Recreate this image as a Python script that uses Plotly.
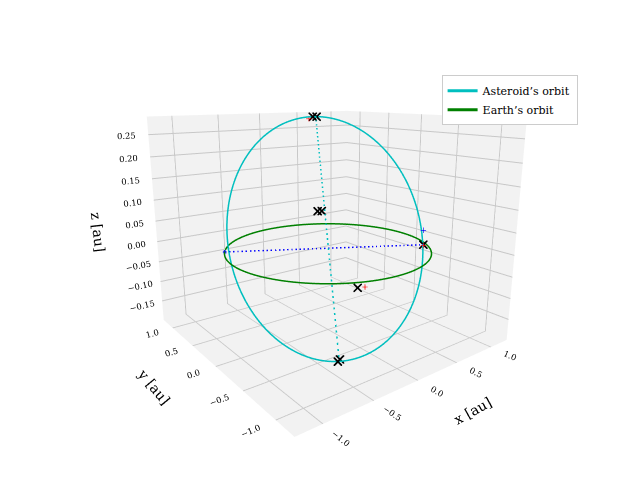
import numpy as np
import plotly.graph_objects as go

# orbital parameters (approximate)
a_ast = 1.0
e_ast = 0.2
inc_deg = 13.5
node_deg = -30.0
peri_deg = 270.0
earth_r = 1.0

cross_x = [0.56, 0.60, -0.37, -0.41, 0.22, 0.26, -0.40, 0.84]
cross_y = [1.02, 1.00, -0.66, -0.68, 0.47, 0.45, -0.92, -0.48]
cross_z = [0.28, 0.28, -0.185, -0.185, 0.06, 0.06, -0.01, 0.0]
plus_x = [0.52, -0.34, 0.82]
plus_y = [1.04, -0.94, -0.50]
plus_z = [0.275, -0.01, 0.0]
bplus_x = [0.83]
bplus_y = [-0.48]
bplus_z = [0.035]
xy_ticks = [-1.0, -0.5, 0.0, 0.5, 1.0]
z_ticks = [-0.15, -0.1, -0.05, 0, 0.05, 0.1, 0.15, 0.2, 0.25]

t = np.linspace(0, 2 * np.pi, 400)
ex, ey, ez = earth_r * np.cos(t), earth_r * np.sin(t), 0 * t

inc, Om, w = np.radians([inc_deg, node_deg, peri_deg])
p = a_ast * (1 - e_ast ** 2)
r = p / (1 + e_ast * np.cos(t))
u = t + w
ax_ = r * (np.cos(Om) * np.cos(u) - np.sin(Om) * np.sin(u) * np.cos(inc))
ay_ = r * (np.sin(Om) * np.cos(u) + np.cos(Om) * np.sin(u) * np.cos(inc))
az_ = r * np.sin(u) * np.sin(inc)
imax, imin = int(np.argmax(az_)), int(np.argmin(az_))
n1 = np.array([np.cos(Om), np.sin(Om), 0])

fig = go.Figure()
fig.add_trace(go.Scatter3d(x=ax_, y=ay_, z=az_, mode="lines", line=dict(color="#00bfbf", width=3), name="Asteroid’s orbit"))
fig.add_trace(go.Scatter3d(x=ex, y=ey, z=ez, mode="lines", line=dict(color="green", width=3), name="Earth’s orbit"))
fig.add_trace(go.Scatter3d(x=[ax_[imax], ax_[imin]], y=[ay_[imax], ay_[imin]], z=[az_[imax], az_[imin]],
                           mode="lines", line=dict(color="#00bfbf", width=3, dash="dash"), showlegend=False))
fig.add_trace(go.Scatter3d(x=[-n1[0], n1[0]], y=[-n1[1], n1[1]], z=[0, 0], mode="lines+markers",
                           line=dict(color="blue", width=3, dash="dash"), marker=dict(color="blue", size=[5, 0]),
                           showlegend=False))
fig.add_trace(go.Scatter3d(x=cross_x, y=cross_y, z=cross_z, mode="markers",
                           marker=dict(symbol="x", color="black", size=2), showlegend=False))
fig.add_trace(go.Scatter3d(x=plus_x, y=plus_y, z=plus_z, mode="markers",
                           marker=dict(symbol="cross", color="red", size=3), showlegend=False))
fig.add_trace(go.Scatter3d(x=bplus_x, y=bplus_y, z=bplus_z, mode="markers",
                           marker=dict(symbol="cross", color="blue", size=3), showlegend=False))

axis = dict(backgroundcolor="rgb(242,242,242)", gridcolor="rgb(200,200,200)", showbackground=True,
            zeroline=False, tickfont=dict(size=10))
fig.update_layout(
    width=640, height=480, margin=dict(l=0, r=0, t=0, b=0),
    font=dict(family="DejaVu Serif", color="black"),
    scene=dict(
        xaxis=dict(axis, title="x [au]", range=[-1.25, 1.25], tickvals=xy_ticks, tickformat=".1f"),
        yaxis=dict(axis, title="y [au]", range=[-1.25, 1.25], tickvals=xy_ticks, tickformat=".1f"),
        zaxis=dict(axis, title="z [au]", range=[-0.2, 0.29], tickvals=z_ticks, tickformat=".2f"),
        aspectmode="manual", aspectratio=dict(x=1, y=1, z=0.85),
        camera=dict(eye=dict(x=-1.22, y=-1.6, z=0.52)),
        domain=dict(x=[0.0, 1.0], y=[0.08, 1.0]),
    ),
    legend=dict(x=0.89, y=0.86, xanchor="right", yanchor="top", bordercolor="#ccc", borderwidth=1,
                font=dict(size=11)),
)
fig.write_html("out.html")
